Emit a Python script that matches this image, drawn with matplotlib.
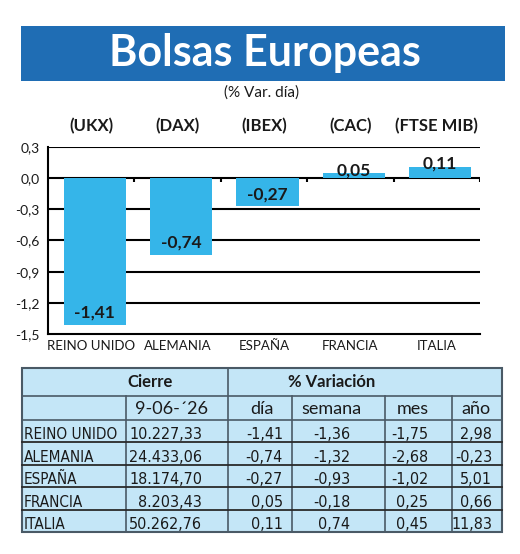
import numpy as np
import matplotlib.pyplot as plt
from matplotlib.patches import Rectangle

# figure size in pixels
W, H = 520, 554

# data
indices = ["(UKX)", "(DAX)", "(IBEX)", "(CAC)", "(FTSE MIB)"]
countries = ["REINO UNIDO", "ALEMANIA", "ESPAÑA", "FRANCIA", "ITALIA"]
var_dia = [-1.41, -0.74, -0.27, 0.05, 0.11]
cierre = ["10.227,33", "24.433,06", "18.174,70", "8.203,43", "50.262,76"]
var_semana = [-1.36, -1.32, -0.93, -0.18, 0.74]
var_mes = [-1.75, -2.68, -1.02, 0.25, 0.45]
var_anio = [2.98, -0.23, 5.01, 0.66, 11.83]
fecha = "9-06-´26"
yticks = [0.3, 0.0, -0.3, -0.6, -0.9, -1.2, -1.5]

BLUE_BANNER = "#1f6db4"
BAR_COLOR = "#35b5e9"
TABLE_BG = "#c4e6f7"
TABLE_EDGE = "#4a5a66"
TXT = "#1a1a1a"

FONT = ["Lato", "DejaVu Sans"]
plt.rcParams['font.family'] = FONT
NARROW = dict(family="DejaVu Sans", fontstretch="condensed")


def fmt(v):
    return f"{v:.2f}".replace(".", ",")


fig = plt.figure(figsize=(W / 100, H / 100), dpi=100)

# background axes in pixel coordinates (banner + table)
bg = fig.add_axes([0, 0, 1, 1])
bg.set_xlim(0, W)
bg.set_ylim(H, 0)
bg.axis("off")

# Title banner
bg.add_patch(Rectangle((21, 26), 484, 55, facecolor=BLUE_BANNER, edgecolor="none"))
bg.text(265, 53, "Bolsas Europeas", color="white", fontsize=31, fontweight="bold",
        ha="center", va="center")
bg.text(262, 93, "(% Var. día)", color=TXT, fontsize=11, ha="center", va="center")

# ---------------- bar chart ----------------
x0, x1, ytop, ybot = 48, 480, 147, 334
ax = fig.add_axes([x0 / W, 1 - ybot / H, (x1 - x0) / W, (ybot - ytop) / H])
pos = np.arange(len(var_dia))
ax.bar(pos + 0.04, var_dia, width=0.72, color=BAR_COLOR, zorder=3)
ax.set_xlim(-0.5, len(var_dia) - 0.5)
ax.set_ylim(-1.5, 0.3)
for t in yticks[:-1]:
    ax.axhline(t, color="black", lw=1.5, zorder=1)
for s in ["top", "right"]:
    ax.spines[s].set_visible(False)
ax.spines["left"].set_linewidth(1.5)
ax.spines["bottom"].set_linewidth(1.5)
ax.set_yticks(yticks)
ax.set_yticklabels([fmt(t)[:-1] for t in yticks], fontsize=10, color=TXT)
ax.tick_params(axis="y", length=0, pad=6)
ax.set_xticks(pos)
ax.set_xticklabels(countries, fontsize=9.5, color=TXT)
ax.tick_params(axis="x", length=0, pad=4)

# small ticks on the zero line at category boundaries
bounds = pos + 0.5
ax.vlines(bounds, -0.035, 0.0, color="black", lw=1.5, zorder=4)

for i, (lab, v) in enumerate(zip(indices, var_dia)):
    ax.annotate(lab, (i, 0.3), xytext=(0, 9), textcoords="offset points",
                ha="center", va="bottom", fontsize=12, fontweight="bold", color=TXT)
    if v < 0:
        ax.annotate(fmt(v), (i + 0.04, v), xytext=(0, 3), textcoords="offset points",
                    ha="center", va="bottom", fontsize=12.5, fontweight="bold",
                    color=TXT, zorder=5)
    else:
        ax.annotate(fmt(v), (i + 0.04, v), xytext=(0, 2), textcoords="offset points",
                    ha="center", va="center", fontsize=12.5, fontweight="bold",
                    color=TXT, zorder=5)

# ---------------- table ----------------
tx0, tx1, ty0, ty1 = 22, 502, 368, 532
h1, h2 = 396, 420
row_h = (ty1 - h2) / len(countries)

bg.add_patch(Rectangle((tx0, ty0), tx1 - tx0, ty1 - ty0, facecolor=TABLE_BG,
                       edgecolor=TABLE_EDGE, lw=1.5))
bg.plot([tx0, tx1], [h1, h1], color=TABLE_EDGE, lw=1.2)
bg.plot([tx0, tx1], [h2, h2], color=TABLE_EDGE, lw=1.2)
bg.plot([228, 228], [ty0, ty1], color=TABLE_EDGE, lw=1.2)
for cx in [126, 292, 385, 452]:
    bg.plot([cx, cx], [h1, ty1], color=TABLE_EDGE, lw=1.2)
for k in range(1, len(countries)):
    yy = h2 + k * row_h
    bg.plot([tx0, tx1], [yy, yy], color="#2a2a2a", lw=1.3)

bg.text(150, 382, "Cierre", fontsize=12, fontweight="bold", ha="center", va="center", color=TXT)
bg.text(332, 382, "% Variación", fontsize=12, fontweight="bold", ha="center", va="center", color=TXT)
hdr = [(fecha, 172), ("día", 262), ("semana", 331), ("mes", 413), ("año", 476)]
for txt, hx in hdr:
    bg.text(hx, 409, txt, fontsize=13, ha="center", va="center", color=TXT)

cols = [(cierre, 202), ([fmt(v) for v in var_dia], 283), ([fmt(v) for v in var_semana], 350),
        ([fmt(v) for v in var_mes], 428), ([fmt(v) for v in var_anio], 492)]
for r, name in enumerate(countries):
    yb = h2 + (r + 1) * row_h - 3
    bg.text(24, yb, name, fontsize=11, ha="left", va="baseline", color=TXT, **NARROW)
    for vals, rx in cols:
        bg.text(rx, yb, vals[r], fontsize=11.5, ha="right", va="baseline", color=TXT, **NARROW)

fig.savefig("out.png", dpi=100)
